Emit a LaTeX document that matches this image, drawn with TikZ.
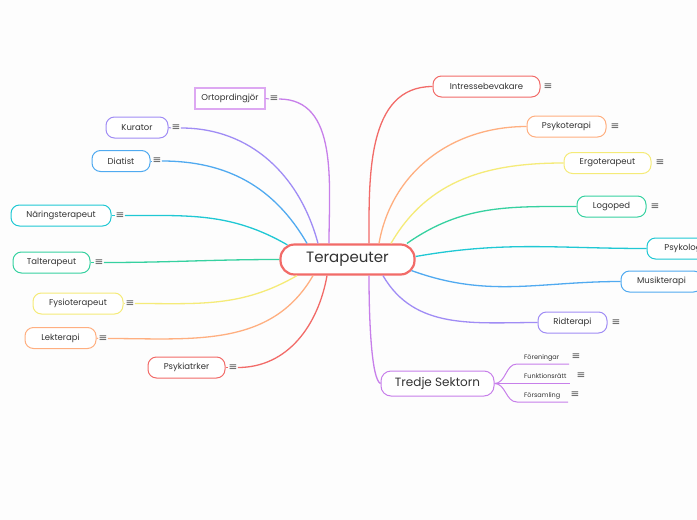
\documentclass[tikz,border=0pt]{standalone}
\usepackage{fontspec}
\setmainfont{Poppins}
\newfontfamily\symf{DejaVu Sans}
\definecolor{cred}{HTML}{F26B68}
\definecolor{corange}{HTML}{FFAF80}
\definecolor{cyellow}{HTML}{F5EB78}
\definecolor{cgreen}{HTML}{36D1A0}
\definecolor{ccyan}{HTML}{1FC8D4}
\definecolor{cblue}{HTML}{50AAF0}
\definecolor{cviolet}{HTML}{A08CF5}
\definecolor{cpurple}{HTML}{C77FEA}
\definecolor{cpurplelight}{HTML}{DDA8F2}
\definecolor{txt}{HTML}{333333}
\definecolor{icn}{HTML}{555555}
\definecolor{bg}{HTML}{FDFDFD}
\begin{document}
\begin{tikzpicture}[x=1pt,y=-1pt,
  box/.style={draw, rounded corners=8.5pt, line width=1pt, minimum height=21pt, inner sep=0pt,
    font=\fontsize{8.5}{10}\selectfont, text=txt, fill=white},
  icon/.style={font=\symf\fontsize{10.5}{11}\selectfont, text=icn, inner sep=0.3pt},
  ln/.style={line width=1.3pt},
  stub/.style={line width=1pt},
  sub/.style={font=\fontsize{6.5}{8}\selectfont, text=txt, inner sep=0pt, anchor=west}]
\fill[bg] (0,0) rectangle (697,520);
\useasboundingbox (0,0) rectangle (697,520);

% centre
\node[draw=cred, line width=2.2pt, rounded corners=14pt, minimum width=134pt, minimum height=30pt,
  fill=white, text=txt, font=\fontsize{15}{18}\selectfont] (c) at (347.5,259.5) {Terapeuter};

% left nodes
\node[draw=cpurplelight, line width=1.2pt, minimum width=70pt, minimum height=21pt, inner sep=0pt,
  fill=white, text=txt, font=\fontsize{8.5}{10}\selectfont] (o) at (230,98.5) {Ortoprdingjör};
\node[icon] (oi) at (274,99) {≡};
\node[box, draw=cviolet, minimum width=62pt] (k) at (137,127.5) {Kurator};
\node[icon] (ki) at (176,128) {≡};
\node[box, draw=cblue, minimum width=58pt] (d) at (121,161) {Diatist};
\node[icon] (di) at (157,161) {≡};
\node[box, draw=ccyan, minimum width=100pt] (n) at (61,215.5) {Näringsterapeut};
\node[icon] (ni) at (120,215.5) {≡};
\node[box, draw=cgreen, minimum width=77pt] (t) at (51.5,262.5) {Talterapeut};
\node[icon] (ti) at (99,262.5) {≡};
\node[box, draw=cyellow, minimum width=90pt] (f) at (78,303.5) {Fysioterapeut};
\node[icon] (fi) at (130,303.5) {≡};
\node[box, draw=corange, minimum width=71pt] (l) at (60.5,338) {Lekterapi};
\node[icon] (li) at (103,338.5) {≡};
\node[box, draw=cred, minimum width=77pt] (p) at (186.5,367.5) {Psykiatrker};
\node[icon] (pi) at (233,367.5) {≡};

% right nodes
\node[box, draw=cred, minimum width=107pt] (ib) at (486.5,86.5) {Intressebevakare};
\node[icon] (ibi) at (548,87) {≡};
\node[box, draw=corange, minimum width=79pt] (pt) at (566.5,126.5) {Psykoterapi};
\node[icon] (pti) at (615,126.5) {≡};
\node[box, draw=cyellow, minimum width=87pt] (e) at (607.5,163) {Ergoterapeut};
\node[icon] (ei) at (660,163) {≡};
\node[box, draw=cgreen, minimum width=69pt] (lg) at (611.5,206.5) {Logoped};
\node[icon] (lgi) at (655,207) {≡};
\node[box, draw=ccyan, minimum width=72pt] (ps) at (683,248.5) {Psykolog};
\node[box, draw=cblue, minimum width=81pt] (m) at (661.5,281.5) {Musikterapi};
\node[box, draw=cviolet, minimum width=69pt] (r) at (572.5,322.5) {Ridterapi};
\node[icon] (ri) at (616,322.5) {≡};
\node[draw=cpurple, line width=1pt, rounded corners=10pt, minimum width=113pt, minimum height=25pt,
  inner sep=0pt, fill=white, text=txt, font=\fontsize{12}{14}\selectfont] (tr) at (437.5,383.5) {Tredje Sektorn};

% stubs
\draw[stub, cpurple] (o.east) -- (oi.west);
\draw[stub, cviolet] (k.east) -- (ki.west);
\draw[stub, cblue] (d.east) -- (di.west);
\draw[stub, ccyan] (n.east) -- (ni.west);
\draw[stub, cgreen] (t.east) -- (ti.west);
\draw[stub, cyellow] (f.east) -- (fi.west);
\draw[stub, corange] (l.east) -- (li.west);
\draw[stub, cred] (p.east) -- (pi.west);

% left connectors
\draw[ln, cpurple] (oi.east) to[out=0,in=90] ([xshift=-18.5pt]c.north);
\draw[ln, cviolet] (ki.east) to[out=0,in=105] ([xshift=-29.5pt]c.north);
\draw[ln, cblue] (di.east) to[out=0,in=120] ([xshift=-40.5pt]c.north);
\draw[ln, ccyan] (ni.east) to[out=0,in=150] ([xshift=8pt,yshift=-1.5pt]c.north west);
\draw[ln, cgreen] (ti.east) to[out=0,in=180] (c.west);
\draw[ln, cyellow] (fi.east) to[out=0,in=210] ([xshift=-50.5pt]c.south);
\draw[ln, corange] (li.east) to[out=0,in=240] ([xshift=-34.5pt]c.south);
\draw[ln, cred] (pi.east) to[out=0,in=260] ([xshift=-20.5pt]c.south);

% right connectors
\draw[ln, cred] (ib.west) to[out=180,in=90] ([xshift=21.5pt]c.north);
\draw[ln, corange] (pt.west) to[out=180,in=80] ([xshift=31.5pt]c.north);
\draw[ln, cyellow] (e.west) to[out=180,in=60] ([xshift=43.5pt]c.north);
\draw[ln, cgreen] (lg.west) to[out=180,in=35] ([xshift=59.5pt]c.north);
\draw[ln, ccyan] (ps.west) to[out=180,in=10] ([yshift=3pt]c.east);
\draw[ln, cblue] (m.west) to[out=180,in=-20] ([xshift=-4pt,yshift=5pt]c.south east);
\draw[ln, cviolet] (r.west) to[out=180,in=-60] ([xshift=35.5pt]c.south);
\draw[ln, cpurple] (tr.west) .. controls +(-9,-4) and +(0,45) .. ([xshift=21.5pt]c.south);

% Tredje Sektorn sub-branches
\coordinate (f1s) at (517,364);
\coordinate (f1e) at (569,364);
\coordinate (f2e) at (570,383.5);
\coordinate (f3s) at (517,402);
\coordinate (f3e) at (568,402);
\node[sub] (s1) at (524,357.5) {Föreningar};
\node[sub] (s2) at (524,376.5) {Funktionsrätt};
\node[sub] (s3) at (524,395.5) {Församling};
\node[icon] (s1i) at (576,357) {≡};
\node[icon] (s2i) at (581,376) {≡};
\node[icon] (s3i) at (575,395) {≡};
\draw[stub, cpurple] (tr.east) to[out=0,in=180] (f1s) -- (f1e);
\draw[stub, cpurple] (tr.east) -- (f2e);
\draw[stub, cpurple] (tr.east) to[out=0,in=180] (f3s) -- (f3e);
\end{tikzpicture}
\end{document}
